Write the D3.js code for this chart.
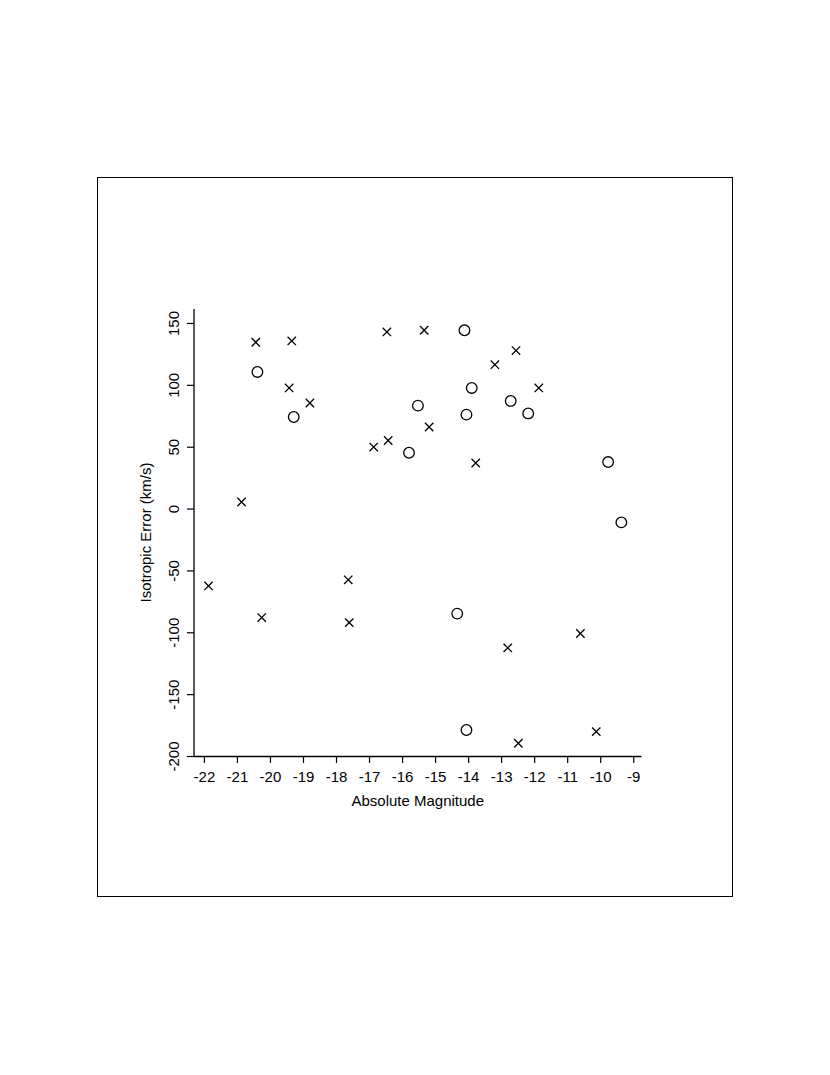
<!DOCTYPE html>
<html lang="en">
<head>
    <meta charset="UTF-8">
    <title>Isotropic Error vs Absolute Magnitude</title>
    <script src="https://d3js.org/d3.v7.min.js"></script>
    <style>
        body { margin: 0; background: #fff; }
        text { font-family: "Liberation Sans", Arial, Helvetica, sans-serif; fill: #000; }
    </style>
</head>
<body>
<svg id="main" width="830" height="1075"></svg>
<script>
    // crosses
    let crossMag = [-20.43, -19.34, -19.42, -18.79, -16.86, -16.42, -20.86, -16.46, -15.33, -12.55, -13.19,
        -11.86, -15.18, -13.77, -21.86, -20.25, -17.63, -17.60, -12.80, -10.60, -12.48, -10.12];
    let crossErr = [134.4, 135.5, 97.5, 85.3, 49.7, 55.0, 5.3, 142.8, 144.1, 127.7, 116.3,
        97.5, 65.9, 36.8, -62.5, -88.1, -57.6, -92.2, -112.6, -101.0, -189.7, -180.3];
    // circles
    let circleMag = [-20.38, -19.28, -14.11, -13.89, -15.52, -12.71, -14.05, -12.18, -15.79, -9.76, -9.36, -14.33, -14.05];
    let circleErr = [110.4, 74.0, 144.1, 97.5, 83.2, 87.0, 75.9, 76.9, 45.1, 37.6, -11.2, -84.9, -179.0];

    let xTicks = [-22, -21, -20, -19, -18, -17, -16, -15, -14, -13, -12, -11, -10, -9];
    let yTicks = [-200, -150, -100, -50, 0, 50, 100, 150];

    let svg = d3.select('#main');
    let fontSize = 15;

    // outer frame
    svg.append('rect')
        .attr('x', 97.5).attr('y', 177.5)
        .attr('width', 635).attr('height', 719)
        .attr('fill', 'none').attr('stroke', '#000').attr('stroke-width', 1);

    let plot = {left: 194, right: 641.5, top: 309, bottom: 756};
    let xScale = d3.scaleLinear().domain([-22.3, -8.75]).range([plot.left, plot.right]);
    let yScale = d3.scaleLinear().domain([-200, 161.3]).range([plot.bottom, plot.top]);

    // x axis
    let xAxis = d3.axisBottom(xScale).tickValues(xTicks).tickSize(7).tickPadding(8)
        .tickFormat(d => String(d));
    let gx = svg.append('g').attr('transform', `translate(0,${plot.bottom})`).call(xAxis);
    gx.select('.domain').attr('d', `M${plot.left},0.5H${plot.right}`);
    gx.selectAll('text').attr('font-size', fontSize).attr('font-family', '"Liberation Sans", Arial, sans-serif');

    // y axis
    let yAxis = d3.axisLeft(yScale).tickValues(yTicks).tickSize(7).tickFormat(d => String(d));
    let gy = svg.append('g').attr('transform', `translate(${plot.left},0)`).call(yAxis);
    gy.select('.domain').attr('d', `M0,${plot.top}V${plot.bottom}`);
    gy.selectAll('text')
        .attr('font-size', fontSize).attr('font-family', '"Liberation Sans", Arial, sans-serif')
        .attr('x', null)
        .attr('text-anchor', 'middle')
        .attr('transform', 'translate(-15.5,0) rotate(-90)')
        .attr('y', 0).attr('dy', '0em');
    svg.selectAll('.tick line').attr('stroke', '#000').attr('stroke-width', 1.2);
    svg.selectAll('.domain').attr('stroke', '#000').attr('stroke-width', 1.3);

    // axis titles
    svg.append('text')
        .attr('x', (plot.left + plot.right) / 2).attr('y', 806)
        .attr('text-anchor', 'middle').attr('font-size', fontSize)
        .text('Absolute Magnitude');
    svg.append('text')
        .attr('transform', `translate(151,${(plot.top + plot.bottom) / 2}) rotate(-90)`)
        .attr('text-anchor', 'middle').attr('font-size', fontSize)
        .text('Isotropic Error (km/s)');

    // crosses
    let crosses = crossMag.map((m, i) => ({m: m, e: crossErr[i]}));
    let h = 4.2;
    svg.append('g').selectAll('path')
        .data(crosses)
        .enter()
        .append('path')
        .attr('d', function (d) {
            let cx = xScale(d.m), cy = yScale(d.e);
            return `M${cx - h},${cy - h}L${cx + h},${cy + h}M${cx - h},${cy + h}L${cx + h},${cy - h}`;
        })
        .attr('stroke', '#000').attr('stroke-width', 1.3).attr('fill', 'none');

    // circles
    let circles = circleMag.map((m, i) => ({m: m, e: circleErr[i]}));
    svg.append('g').selectAll('circle')
        .data(circles)
        .enter()
        .append('circle')
        .attr('cx', d => xScale(d.m))
        .attr('cy', d => yScale(d.e))
        .attr('r', 5.3)
        .attr('fill', 'none').attr('stroke', '#000').attr('stroke-width', 1.3);
</script>
</body>
</html>
